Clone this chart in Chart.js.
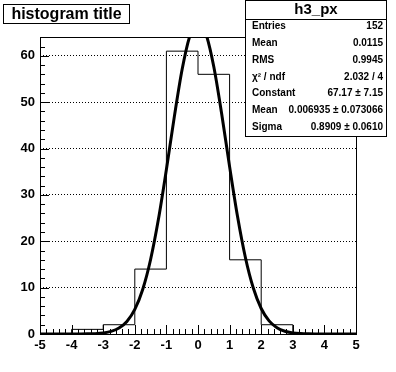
<!DOCTYPE html>
<html>
<head>
<meta charset="utf-8">
<script src="https://cdn.jsdelivr.net/npm/chart.js@4"></script>
<style>
  body { margin: 0; background: #fff; }
  canvas { display: block; }
</style>
</head>
<body>
<canvas id="chart" width="396" height="372"></canvas>
<script>
// histogram: bin lower edges (+ last upper edge) and bin contents
const binEdges = [-5, -4, -3, -2, -1, 0, 1, 2, 3, 4, 5];
const binCounts = [0, 1, 2, 14, 61, 56, 16, 2, 0, 0];

// gaus fit curve
const fitX = [-5, -4.75, -4.5, -4.25, -4, -3.75, -3.5, -3.25, -3, -2.75, -2.5, -2.25, -2,
  -1.75, -1.5, -1.25, -1, -0.75, -0.5, -0.25, 0, 0.25, 0.5, 0.75, 1, 1.25, 1.5, 1.75,
  2, 2.25, 2.5, 2.75, 3, 3.25, 3.5, 3.75, 4, 4.25, 4.5, 4.75, 5];
const fitY = [0, 0, 0, 0, 0, 0.01, 0.03, 0.08, 0.23, 0.56, 1.28, 2.71, 5.31,
  9.61, 16.07, 24.83, 35.47, 46.82, 57.14, 64.44, 67.17, 64.72, 57.63, 47.43, 36.09, 25.38, 16.49, 9.91,
  5.5, 2.82, 1.34, 0.59, 0.24, 0.09, 0.03, 0.01, 0, 0, 0, 0, 0];

// axis ticks
const xTicks = [-5, -4, -3, -2, -1, 0, 1, 2, 3, 4, 5];
const yTicks = [0, 10, 20, 30, 40, 50, 60];

// stats box
const statTitle = 'h3_px';
const statLabels = ['Entries', 'Mean', 'RMS', 'χ² / ndf', 'Constant', 'Mean', 'Sigma'];
const statValues = ['152', '0.0115', '0.9945', '2.032 / 4', '67.17 ± 7.15', '0.006935 ± 0.073066', '0.8909 ± 0.0610'];
const histTitle = 'histogram title';

const FONT = "'Liberation Sans', Arial, sans-serif";

// each point starts a bin; the last one closes the axis range
const histData = binEdges.map((x, i) => ({ x: x, y: binCounts[Math.min(i, binCounts.length - 1)] }));
const fitData = fitX.map((x, i) => ({ x: x, y: fitY[i] }));

// frame, inner tick marks, title box and stats box
const rootPlugin = {
  id: 'rootStyle',
  afterDraw(chart) {
    const { ctx, chartArea: a, scales } = chart;
    const xs = scales.x, ys = scales.y;
    ctx.save();
    ctx.strokeStyle = '#000';
    ctx.lineWidth = 1;
    ctx.setLineDash([]);

    // tick marks drawn inside the frame
    ctx.beginPath();
    for (let i = 0; i <= 32; i++) {
      const py = Math.round(ys.getPixelForValue(i * 2)) + 0.5;
      const len = (i % 5 === 0) ? 9 : 5;
      ctx.moveTo(a.left, py);
      ctx.lineTo(a.left + len, py);
    }
    for (let i = 0; i <= 50; i++) {
      const px = Math.round(xs.getPixelForValue(-5 + i * 0.2)) + 0.5;
      const len = (i % 5 === 0) ? 9 : 5;
      ctx.moveTo(px, a.bottom);
      ctx.lineTo(px, a.bottom - len);
    }
    ctx.stroke();

    // frame
    ctx.strokeRect(Math.round(a.left) + 0.5, Math.round(a.top) + 0.5,
      Math.round(a.right - a.left), Math.round(a.bottom - a.top));

    // title box
    ctx.fillStyle = '#fff';
    ctx.fillRect(3, 4, 127, 20);
    ctx.strokeRect(3.5, 4.5, 126, 19);
    ctx.fillStyle = '#000';
    ctx.font = 'bold 16px ' + FONT;
    ctx.textAlign = 'center';
    ctx.textBaseline = 'middle';
    ctx.fillText(histTitle, 66.5, 14.5);

    // stats box
    const bx = 245, bw = 141, bh = 136;
    ctx.fillStyle = '#fff';
    ctx.fillRect(bx, 0, bw + 1, bh + 1);
    ctx.strokeRect(bx + 0.5, 0.5, bw, bh);
    ctx.beginPath();
    ctx.moveTo(bx, 19.5);
    ctx.lineTo(bx + bw, 19.5);
    ctx.stroke();
    ctx.fillStyle = '#000';
    ctx.font = 'bold 15px ' + FONT;
    ctx.textAlign = 'center';
    ctx.fillText(statTitle, bx + bw / 2 + 0.5, 10);
    ctx.font = 'bold 10px ' + FONT;
    statLabels.forEach((lab, i) => {
      const ry = 26.5 + i * 16.8;
      ctx.textAlign = 'left';
      ctx.fillText(lab, bx + 7, ry);
      ctx.textAlign = 'right';
      ctx.fillText(statValues[i], bx + bw - 3, ry);
    });
    ctx.restore();
  }
};

new Chart(document.getElementById('chart'), {
  type: 'line',
  data: {
    datasets: [
      {
        label: 'h3_px',
        data: histData,
        stepped: 'before',
        borderColor: '#000',
        borderWidth: 1,
        pointRadius: 0,
        fill: false
      },
      {
        label: 'gaus',
        data: fitData,
        borderColor: '#000',
        borderWidth: 3,
        pointRadius: 0,
        cubicInterpolationMode: 'monotone',
        fill: false
      }
    ]
  },
  options: {
    responsive: false,
    animation: false,
    events: [],
    layout: { padding: { top: 37, right: 40, left: 0, bottom: 0 } },
    plugins: {
      legend: { display: false },
      tooltip: { enabled: false },
      title: { display: false }
    },
    scales: {
      x: {
        type: 'linear',
        min: -5,
        max: 5,
        afterBuildTicks: (scale) => { scale.ticks = xTicks.map(v => ({ value: v })); },
        afterFit: (scale) => { scale.height = 38; },
        grid: { display: false, drawTicks: false },
        border: { display: false },
        ticks: {
          color: '#000',
          padding: 4,
          maxRotation: 0,
          autoSkip: false,
          font: { family: FONT, size: 13, weight: 'bold' }
        }
      },
      y: {
        type: 'linear',
        min: 0,
        max: 64.05,
        afterBuildTicks: (scale) => { scale.ticks = yTicks.map(v => ({ value: v })); },
        afterFit: (scale) => { scale.width = 40; },
        grid: {
          color: (c) => c.tick && c.tick.value === 0 ? 'rgba(0,0,0,0)' : '#000',
          lineWidth: 1,
          drawTicks: false
        },
        border: { display: false, dash: [1, 2] },
        ticks: {
          color: '#000',
          padding: 5,
          autoSkip: false,
          font: { family: FONT, size: 13, weight: 'bold' }
        }
      }
    }
  },
  plugins: [rootPlugin]
});
</script>
</body>
</html>
